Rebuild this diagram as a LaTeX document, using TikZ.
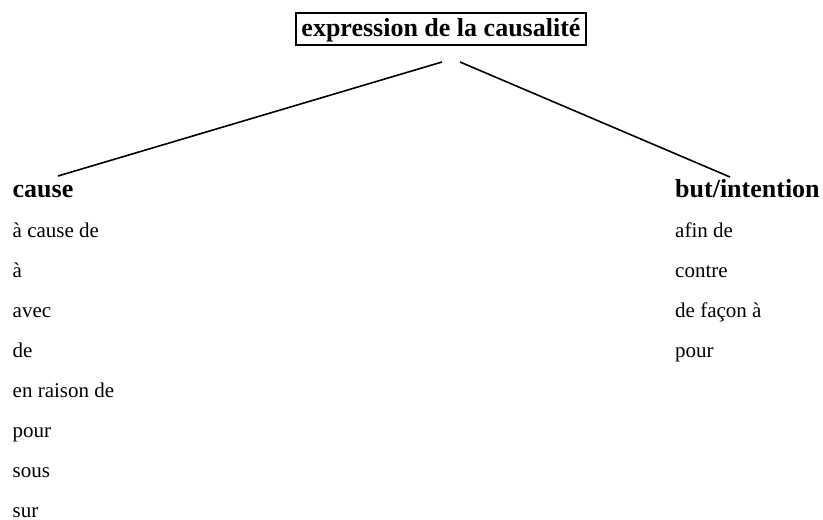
\documentclass[tikz,border=0pt]{standalone}
\usepackage{fontspec}
\setmainfont{Liberation Serif}
\begin{document}
\begin{tikzpicture}[x=1pt,y=-1pt,
  head/.style={anchor=base west,inner sep=0pt,font=\fontsize{26}{30}\selectfont\bfseries},
  item/.style={anchor=base west,inner sep=0pt,font=\fontsize{21}{25}\selectfont},
  link/.style={line width=1.6pt}]
\useasboundingbox (0,0) rectangle (823,520);
\node[draw,line width=1.6pt,inner sep=0pt,minimum width=290pt,minimum height=32pt,
  text height=20pt,text depth=6pt,font=\fontsize{26}{30}\selectfont\bfseries] (title) at (441,29) {expression de la causalité};
\node[head] (cause) at (12.5,197) {cause};
\node[head] (but) at (675,197) {but/intention};
\node[item] (c1) at (12.5,237) {à cause de};
\node[item] (c2) at (12.5,277) {à};
\node[item] (c3) at (12.5,317) {avec};
\node[item] (c4) at (12.5,357) {de};
\node[item] (c5) at (12.5,397) {en raison de};
\node[item] (c6) at (12.5,437) {pour};
\node[item] (c7) at (12.5,477) {sous};
\node[item] (c8) at (12.5,517) {sur};
\node[item] (b1) at (675,237) {afin de};
\node[item] (b2) at (675,277) {contre};
\node[item] (b3) at (675,317) {de façon à};
\node[item] (b4) at (675,357) {pour};
\coordinate (tl) at (442,62);
\coordinate (tr) at (460,62);
\coordinate (cl) at (58,176);
\coordinate (br) at (730,177);
\draw[link] (tl) -- (cl);
\draw[link] (tr) -- (br);
\end{tikzpicture}
\end{document}
